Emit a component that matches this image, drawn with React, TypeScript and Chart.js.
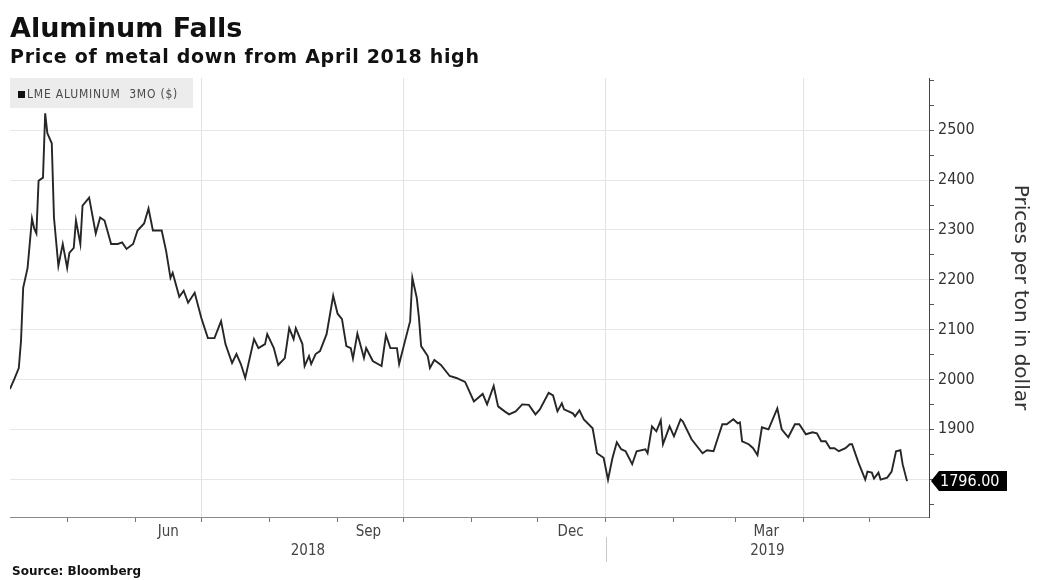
import React, { useEffect, useRef } from "react";
import { Chart, registerables } from "chart.js";

Chart.register(...registerables);

const TITLE = "Aluminum Falls";
const SUBTITLE = "Price of metal down from April 2018 high";
const SOURCE = "Source: Bloomberg";
const SERIES_LABEL = "LME ALUMINUM  3MO ($)";
const AXIS_TITLE = "Prices per ton in dollar";

// trading days, counted in days since 2018-01-01
const days = [
  94, 96, 98, 99, 100, 102, 104, 105, 106, 107, 109, 110, 111, 113, 114, 116, 118, 120, 121, 123,
  124, 126, 127, 130, 133, 135, 137, 140, 143, 145, 147, 150, 152, 155, 157, 159, 163, 165, 167, 168,
  171, 173, 175, 178, 181, 184, 187, 190, 192, 195, 197, 199, 201, 205, 207, 210, 211, 214, 216, 219,
  221, 223, 224, 227, 228, 230, 231, 233, 235, 238, 241, 243, 245, 247, 249, 250, 252, 255, 256, 259,
  263, 265, 267, 270, 271, 274, 276, 277, 279, 280, 281, 284, 285, 287, 290, 294, 297, 301, 305, 309,
  311, 314, 316, 319, 321, 324, 327, 330, 333, 335, 339, 341, 343, 345, 346, 350, 351, 353, 355, 359,
  361, 364, 366, 368, 370, 372, 374, 377, 379, 383, 384, 386, 388, 390, 391, 394, 396, 399, 400, 404,
  409, 411, 414, 418, 420, 423, 425, 426, 427, 430, 432, 434, 436, 439, 443, 445, 448, 451, 453, 456,
  459, 461, 463, 465, 467, 469, 471, 474, 476, 477, 480, 483, 484, 486, 487, 489, 490, 493, 495, 497,
  499, 500, 502,
];

const prices = [
  1981, 2001, 2023, 2077, 2184, 2224, 2323, 2303, 2293, 2399, 2405, 2534, 2494, 2474, 2325, 2228, 2272, 2224, 2254, 2264,
  2319, 2272, 2349, 2365, 2293, 2325, 2319, 2272, 2272, 2275, 2262, 2272, 2299, 2313, 2343, 2299, 2299, 2258, 2204, 2214,
  2166, 2178, 2154, 2174, 2124, 2083, 2083, 2117, 2071, 2033, 2051, 2031, 2003, 2081, 2063, 2071, 2091, 2063, 2029, 2043,
  2103, 2081, 2103, 2071, 2027, 2047, 2031, 2051, 2057, 2091, 2168, 2132, 2121, 2067, 2063, 2042, 2092, 2043, 2063, 2037,
  2027, 2089, 2063, 2063, 2031, 2083, 2117, 2204, 2164, 2124, 2067, 2047, 2023, 2039, 2029, 2007, 2003, 1995, 1956, 1971,
  1950, 1987, 1946, 1936, 1930, 1936, 1950, 1949, 1930, 1940, 1973, 1968, 1936, 1952, 1940, 1932, 1926, 1938, 1920, 1902,
  1852, 1843, 1799, 1842, 1874, 1860, 1856, 1830, 1856, 1860, 1852, 1906, 1896, 1918, 1870, 1906, 1886, 1920, 1916, 1880,
  1852, 1858, 1856, 1910, 1910, 1920, 1912, 1914, 1876, 1870, 1862, 1848, 1904, 1900, 1942, 1900, 1884, 1910, 1910, 1890,
  1894, 1892, 1876, 1876, 1862, 1862, 1856, 1862, 1870, 1870, 1832, 1799, 1815, 1813, 1801, 1813, 1799, 1803, 1815, 1856,
  1858, 1830, 1796,
];

// x axis: month boundaries (tick marks), quarter boundaries (grid lines), month labels
const X_MIN = 94;
const X_MAX = 512;
const monthStarts = [120, 151, 181, 212, 243, 273, 304, 334, 365, 396, 424, 455, 485];
const quarterStarts = [181, 273, 365, 455];
const monthLabelDays = [166, 257, 349, 438];
const monthLabels = ["Jun", "Sep", "Dec", "Mar"];
const yearLabels = ["2018", "2019"];
const yearBoundary = 365;

// y axis
const Y_MIN = 1724;
const Y_MAX = 2605;
const yTickValues = [1750, 1800, 1850, 1900, 1950, 2000, 2050, 2100, 2150, 2200, 2250, 2300, 2350, 2400, 2450, 2500, 2550, 2600];
const hiddenYLabels = [1800, 2600];

const COND = '"DejaVu Sans Condensed", "DejaVu Sans", sans-serif';
const SANS = '"DejaVu Sans", sans-serif';

const decorPlugin = {
  id: "decor",
  afterDatasetsDraw(chart: any) {
    const { ctx, chartArea } = chart;
    ctx.save();
    // legend box
    ctx.fillStyle = "#ececec";
    ctx.fillRect(chartArea.left, chartArea.top, 183, 30);
    ctx.fillStyle = "#111";
    ctx.fillRect(chartArea.left + 8, chartArea.top + 13, 7, 7);
    ctx.fillStyle = "#4a4a4a";
    ctx.font = `12px ${COND}`;
    try { (ctx as any).letterSpacing = "0.8px"; } catch (e) {}
    ctx.textBaseline = "middle";
    ctx.textAlign = "left";
    ctx.fillText(SERIES_LABEL, chartArea.left + 17, chartArea.top + 17);
    try { (ctx as any).letterSpacing = "0px"; } catch (e) {}
    ctx.restore();
  },
  afterDraw(chart: any) {
    const { ctx, chartArea, scales } = chart;
    const xs = scales.x;
    const ys = scales.y;
    ctx.save();
    // last value label
    const last = prices[prices.length - 1];
    const y = ys.getPixelForValue(last);
    const x0 = chartArea.right + 2;
    ctx.fillStyle = "#000";
    ctx.beginPath();
    ctx.moveTo(x0, y);
    ctx.lineTo(x0 + 8, y - 10);
    ctx.lineTo(x0 + 76, y - 10);
    ctx.lineTo(x0 + 76, y + 10);
    ctx.lineTo(x0 + 8, y + 10);
    ctx.closePath();
    ctx.fill();
    ctx.fillStyle = "#fff";
    ctx.font = `16px ${COND}`;
    ctx.textBaseline = "middle";
    ctx.textAlign = "left";
    ctx.fillText(last.toFixed(2), x0 + 9, y + 1);

    // year labels and separator
    const xb = xs.getPixelForValue(yearBoundary);
    ctx.strokeStyle = "#c8c8c8";
    ctx.lineWidth = 1;
    ctx.beginPath();
    ctx.moveTo(Math.round(xb) + 0.5, chartArea.bottom + 20);
    ctx.lineTo(Math.round(xb) + 0.5, chartArea.bottom + 45);
    ctx.stroke();
    ctx.fillStyle = "#444";
    ctx.font = `15px ${COND}`;
    ctx.textAlign = "center";
    ctx.fillText(yearLabels[0], (chartArea.left + xb) / 2, chartArea.bottom + 34);
    ctx.fillText(yearLabels[1], (xb + chartArea.right) / 2, chartArea.bottom + 34);
    ctx.restore();
  },
};

export default function App() {
  const canvasRef = useRef<HTMLCanvasElement | null>(null);

  useEffect(() => {
    const canvas = canvasRef.current;
    if (!canvas) return;
    const chart = new Chart(canvas, {
      type: "line",
      data: {
        datasets: [
          {
            label: SERIES_LABEL,
            data: days.map((d, i) => ({ x: d, y: prices[i] })),
            borderColor: "#262626",
            borderWidth: 1.9,
            pointRadius: 0,
            tension: 0,
            fill: false,
          },
        ],
      },
      options: {
        animation: false,
        responsive: false,
        devicePixelRatio: 1,
        layout: { padding: { left: 10, top: 78, right: 0, bottom: 0 } },
        plugins: {
          legend: { display: false },
          tooltip: { enabled: false },
          title: { display: false },
        },
        scales: {
          x: {
            type: "linear",
            min: X_MIN,
            max: X_MAX,
            afterBuildTicks: (s: any) => {
              s.ticks = [...monthStarts, ...monthLabelDays].sort((a, b) => a - b).map((v) => ({ value: v }));
            },
            afterFit: (s: any) => {
              s.height = 63;
            },
            grid: {
              color: (c: any) => (c.tick && quarterStarts.includes(c.tick.value) ? "#e2e2e2" : "rgba(0,0,0,0)"),
              tickColor: (c: any) => (c.tick && monthStarts.includes(c.tick.value) ? "#777" : "rgba(0,0,0,0)"),
              tickLength: 5,
              lineWidth: 1,
            },
            border: { display: true, color: "#8a8a8a", width: 1 },
            ticks: {
              autoSkip: false,
              maxRotation: 0,
              minRotation: 0,
              padding: 1,
              color: "#444",
              font: { family: COND, size: 15 },
              callback: (v: any) => {
                const i = monthLabelDays.indexOf(Number(v));
                return i >= 0 ? monthLabels[i] : "";
              },
            },
          },
          y: {
            type: "linear",
            position: "right",
            min: Y_MIN,
            max: Y_MAX,
            afterBuildTicks: (s: any) => {
              s.ticks = yTickValues.map((v) => ({ value: v }));
            },
            afterFit: (s: any) => {
              s.width = 108;
            },
            grid: {
              color: (c: any) =>
                c.tick && c.tick.value % 100 === 0 && c.tick.value < 2600 ? "#e6e6e6" : "rgba(0,0,0,0)",
              tickColor: "#555",
              tickLength: 5,
              lineWidth: 1,
            },
            border: { display: true, color: "#444", width: 1 },
            ticks: {
              padding: 4,
              color: "#333",
              font: { family: COND, size: 16 },
              callback: (v: any) => {
                const n = Number(v);
                return n % 100 === 0 && !hiddenYLabels.includes(n) ? String(n) : "";
              },
            },
            title: {
              display: true,
              text: AXIS_TITLE,
              color: "#333",
              font: { family: SANS, size: 20 },
              padding: { top: 5, bottom: 0 },
            },
          },
        },
      },
      plugins: [decorPlugin],
    } as any);
    return () => chart.destroy();
  }, []);

  return (
    <div style={{ position: "absolute", left: 0, top: 0, width: 1037, height: 580, background: "#fff", overflow: "hidden" }}>
      <canvas ref={canvasRef} width={1037} height={580} style={{ position: "absolute", left: 0, top: 0 }} />
      <div style={{ position: "absolute", left: 10, top: 14, fontFamily: SANS, fontWeight: "bold", fontSize: 27, lineHeight: "27px", color: "#111", whiteSpace: "nowrap" }}>
        {TITLE}
      </div>
      <div style={{ position: "absolute", left: 10, top: 47, fontFamily: SANS, fontWeight: "bold", fontSize: 19, lineHeight: "19px", letterSpacing: "0.7px", color: "#111", whiteSpace: "nowrap" }}>
        {SUBTITLE}
      </div>
      <div style={{ position: "absolute", left: 12, top: 565, fontFamily: SANS, fontWeight: "bold", fontSize: 12, lineHeight: "12px", color: "#111", whiteSpace: "nowrap" }}>
        {SOURCE}
      </div>
    </div>
  );
}
